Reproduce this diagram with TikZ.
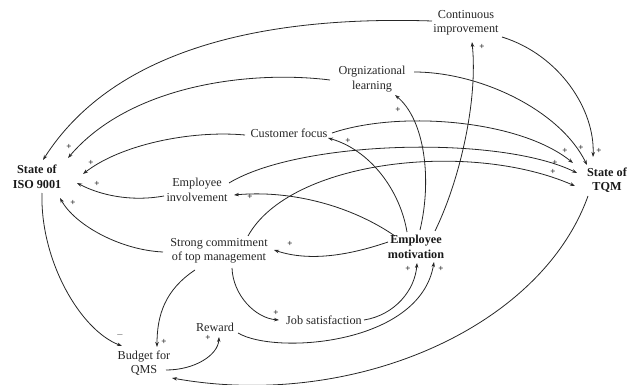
\documentclass[tikz,border=0pt]{standalone}
\usepackage{fontspec}
\setmainfont{Liberation Serif}
\usetikzlibrary{arrows.meta,calc}
\begin{document}
\begin{tikzpicture}[x=1pt,y=-1pt,
  lbl/.style={align=center,inner sep=0pt,font=\fontsize{12.2}{14.5}\selectfont,text=black!85},
  blbl/.style={align=center,inner sep=0pt,font=\fontsize{12.2}{14.5}\selectfont\bfseries,text=black!90},
  pl/.style={inner sep=0pt,font=\fontsize{9}{9}\selectfont\bfseries,text=black!85},
  arr/.style={draw=black!85,line width=0.8pt,-{Stealth[length=5pt,width=3.5pt]}},
]
\useasboundingbox (0,0) rectangle (632,385);
% nodes
\node[lbl] (ci) at (466,23) {Continuous\\improvement};
\node[lbl] (ol) at (372,79) {Orgnizational\\learning};
\node[lbl] (cf) at (289,133) {Customer focus};
\node[blbl] (iso) at (37,177) {State of\\ISO 9001};
\node[blbl] (tqm) at (607,180) {State of\\TQM};
\node[lbl] (ei) at (197,190) {Employee\\involvement};
\node[lbl] (sc) at (219,251) {Strong commitment\\of top management};
\node[blbl] (em) at (416,247) {Employee\\motivation};
\node[lbl] (js) at (324,320) {Job satisfaction};
\node[lbl] (rw) at (215,327) {Reward};
\node[lbl] (bq) at (144,363) {Budget for\\QMS};
% edges into ISO
\draw[arr] ($(ci)+(-34,-2)$) .. controls (250,15) and (110,55) .. ($(iso)+(6,-17)$);
\draw[arr] ($(ol)+(-42,1)$) .. controls (250,70) and (130,85) .. ($(iso)+(31,-19)$);
\draw[arr] ($(cf)+(-44,2)$) .. controls (190,130) and (120,145) .. ($(iso)+(46,-3)$);
\draw[arr] ($(ei)+(-33,6)$) .. controls (130,202) and (100,195) .. ($(iso)+(40,6)$);
\draw[arr] ($(sc)+(-56,1)$) .. controls (120,250) and (75,225) .. ($(iso)+(23,21)$);
% ISO to budget
\draw[arr] ($(iso)+(5,16)$) .. controls (40,260) and (80,330) .. ($(bq)+(-22,-17)$);
% SC outgoing
\draw[arr] ($(sc)+(-24,19)$) .. controls (165,290) and (157,315) .. ($(bq)+(13,-16)$);
\draw[arr] ($(sc)+(13,17)$) .. controls (233,295) and (255,318) .. ($(js)+(-45,0)$);
\draw[arr] ($(sc)+(29,-15)$) .. controls (290,160) and (470,140) .. ($(tqm)+(-32,6)$);
% budget to reward
\draw[arr] ($(bq)+(22,7)$) .. controls (195,370) and (218,355) .. ($(rw)+(4,10)$);
% reward, JS to EM
\draw[arr] ($(rw)+(23,6)$) .. controls (275,355) and (420,345) .. ($(em)+(18,15)$);
\draw[arr] ($(js)+(40,0)$) .. controls (395,315) and (415,290) .. ($(em)+(1,16)$);
% TQM to budget
\draw[arr] ($(tqm)+(-19,16)$) .. controls (540,330) and (350,410) .. ($(bq)+(28,15)$);
% EM outgoing
\draw[arr] ($(em)+(-21,-11)$) .. controls (350,205) and (290,190) .. ($(ei)+(37,5)$);
\draw[arr] ($(em)+(-28,-5)$) .. controls (350,255) and (310,262) .. ($(sc)+(55,-1)$);
\draw[arr] ($(em)+(-9,-15)$) .. controls (400,190) and (370,150) .. ($(cf)+(39,5)$);
\draw[arr] ($(em)+(4,-17)$) .. controls (432,180) and (425,120) .. ($(ol)+(23,16)$);
\draw[arr] ($(em)+(19,-16)$) .. controls (460,180) and (478,100) .. ($(ci)+(6,19)$);
% into TQM
\draw[arr] ($(cf)+(43,0)$) .. controls (400,110) and (520,120) .. ($(tqm)+(-34,-17)$);
\draw[arr] ($(ei)+(32,-7)$) .. controls (300,140) and (500,135) .. ($(tqm)+(-30,-7)$);
\draw[arr] ($(ol)+(42,-7)$) .. controls (480,72) and (560,110) .. ($(tqm)+(-20,-15)$);
\draw[arr] ($(ci)+(36,14)$) .. controls (560,55) and (595,110) .. ($(tqm)+(-14,-23)$);
% polarity signs
\node[pl] (s1) at (69,147) {+};
\node[pl] (s2) at (91,163) {+};
\node[pl] (s3) at (97,184) {+};
\node[pl] (s4) at (73,203) {+};
\node[pl] (s5) at (120,335) {$-$};
\node[pl] (s6) at (164,342) {+};
\node[pl] (s7) at (208,338) {+};
\node[pl] (s8) at (276,313) {+};
\node[pl] (s9) at (408,269) {+};
\node[pl] (s10) at (441,269) {+};
\node[pl] (s11) at (250,197) {+};
\node[pl] (s12) at (290,244) {+};
\node[pl] (s13) at (348,141) {+};
\node[pl] (s14) at (398,110) {+};
\node[pl] (s15) at (482,47) {+};
\node[pl] (s16) at (565,151) {+};
\node[pl] (s17) at (555,163) {+};
\node[pl] (s18) at (553,172) {+};
\node[pl] (s19) at (581,148) {+};
\node[pl] (s20) at (599,151) {+};
\end{tikzpicture}
\end{document}
